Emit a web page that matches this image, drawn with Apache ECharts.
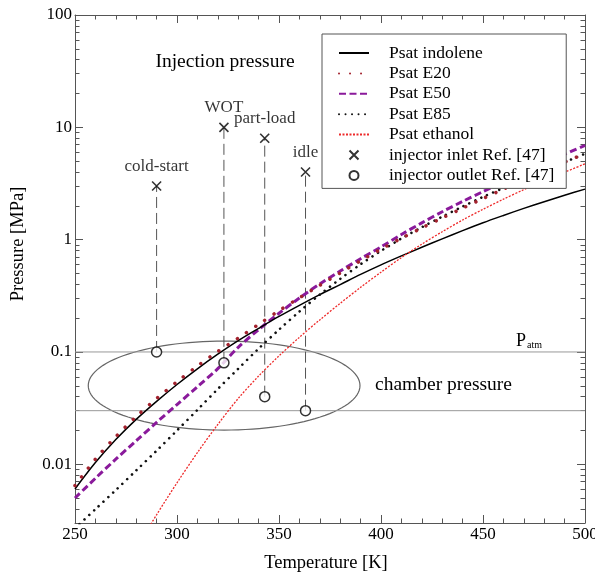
<!DOCTYPE html>
<html><head><meta charset="utf-8">
<script src="https://cdn.jsdelivr.net/npm/echarts@6/dist/echarts.min.js"></script>
<style>html,body{margin:0;padding:0;background:#fff}#c{width:595px;height:578px}</style>
</head><body><div id="c"></div>
<script>
// ---- data ----
const temperatures = [250,260,270,280,290,300,310,320,330,340,350,360,370,380,390,400,410,420,430,440,450,460,470,480,490,500];
const psatIndolene = [0.00603,0.01035,0.0166,0.0251,0.0363,0.0513,0.0708,0.0955,0.126,0.162,0.207,0.260,0.324,0.398,0.490,0.596,0.716,0.855,1.016,1.202,1.413,1.641,1.897,2.178,2.483,2.818];
const psatE20 = [0.00646,0.0111,0.0176,0.0266,0.0385,0.0543,0.0750,0.101,0.133,0.176,0.233,0.303,0.392,0.505,0.648,0.822,1.028,1.271,1.560,1.905,2.317,2.818,3.388,4.074,4.898,5.821];
const psatE50 = [0.00501,0.00750,0.0111,0.0162,0.0236,0.0340,0.0490,0.0710,0.110,0.158,0.221,0.302,0.403,0.525,0.676,0.861,1.110,1.410,1.770,2.188,2.679,3.266,3.963,4.786,5.754,6.918];
const psatE85 = [0.00269,0.00398,0.00589,0.00881,0.0132,0.0200,0.0305,0.0468,0.0708,0.107,0.158,0.229,0.324,0.447,0.603,0.794,1.023,1.288,1.603,1.972,2.399,2.884,3.467,4.121,4.898,5.821];
const psatEthanol = [null,null,null,0.00178,0.00355,0.00684,0.0127,0.0226,0.0385,0.0610,0.0923,0.135,0.193,0.271,0.376,0.513,0.692,0.912,1.175,1.496,1.862,2.291,2.786,3.350,3.981,4.732];

const conditions = ['cold-start','WOT','part-load','idle'];
const conditionT = [290,323,343,363];
const inletP = [3,10,8,4];
const outletP = [0.1,0.08,0.04,0.03];

const atmP = 0.1;
const chamberLowP = 0.03;
// ellipse: centre T, centre P, left-edge T, top P
const ellipseCentreT = 323.1, ellipseCentreP = 0.0502, ellipseLeftT = 256.5, ellipseTopP = 0.125;

const xMin = 250, xMax = 500, xStep = 50;
const yMin = 0.003, yMax = 100;
const yMajorTicks = [0.01,0.1,1,10,100];
const yMinorTicks = [0.003,0.004,0.005,0.006,0.007,0.008,0.009,
  0.02,0.03,0.04,0.05,0.06,0.07,0.08,0.09,
  0.2,0.3,0.4,0.5,0.6,0.7,0.8,0.9,
  2,3,4,5,6,7,8,9,
  20,30,40,50,60,70,80,90];

const seriesNames = ['Psat indolene','Psat E20','Psat E50','Psat E85','Psat ethanol','injector inlet Ref. [47]','injector outlet Ref. [47]'];

// ---- chart ----
const FONT = 'Liberation Serif';
const AXC = '#555';
const pair = arr => temperatures.map((t,i)=>[t, arr[i]]);

function yFmt(v){ const e = Math.round(Math.log10(v)); return e >= 0 ? String(Math.round(v)) : v.toFixed(-e); }

function xAx(pos, labels){
  return { type:'value', position:pos, min:xMin, max:xMax, interval:xStep,
    axisLine:{show:true, lineStyle:{color:AXC, width:1}},
    axisTick:{show:true, inside:true, length:8, lineStyle:{color:AXC}},
    minorTick:{show:true, splitNumber:5, length:4.5, lineStyle:{color:AXC}},
    splitLine:{show:false}, minorSplitLine:{show:false},
    axisLabel:{show:labels, color:'#000', fontFamily:FONT, fontSize:17, margin:3},
    name: labels ? 'Temperature [K]' : '', nameLocation:'middle', nameGap:31,
    nameTextStyle:{color:'#000', fontFamily:FONT, fontSize:18.5, padding:[0,8,0,0]} };
}
function yAx(pos, ticks, len, labels, line){
  return { type:'log', logBase:10, position:pos, min:yMin, max:yMax,
    axisLine:{show:line, lineStyle:{color:AXC, width:1}},
    axisTick:{show:true, inside:true, length:len, customValues:ticks, lineStyle:{color:AXC}},
    splitLine:{show:false}, minorTick:{show:false},
    axisLabel:{show:labels, customValues:yMajorTicks, formatter:yFmt, color:'#000', fontFamily:FONT, fontSize:17, margin:3} };
}

const lineLegendItem = name => ({ name:name, itemStyle:{opacity:0} });

const chart = echarts.init(document.getElementById('c'), null, {renderer:'canvas'});
const option = {
  animation:false,
  backgroundColor:'#fff',
  grid:{left:75, right:10, top:15, bottom:55, containLabel:false, outerBoundsMode:'none'},
  xAxis:[ xAx('bottom', true), xAx('top', false) ],
  yAxis:[ yAx('left', yMajorTicks, 8, true, true), yAx('left', yMinorTicks, 4.5, false, false),
          yAx('right', yMajorTicks, 8, false, true), yAx('right', yMinorTicks, 4.5, false, false) ],
  legend:{
    z:50,
    data:[lineLegendItem(seriesNames[0]), lineLegendItem(seriesNames[1]), lineLegendItem(seriesNames[2]),
          lineLegendItem(seriesNames[3]), lineLegendItem(seriesNames[4]), seriesNames[5], seriesNames[6]],
    orient:'vertical', left:322, top:34,
    padding:[10,12,4,16], itemGap:2.4, itemWidth:30, itemHeight:9,
    backgroundColor:'#fff', borderColor:'#555', borderWidth:1, borderRadius:0,
    textStyle:{color:'#000', fontFamily:FONT, fontSize:17.5, padding:[0,0,0,15]},
    selectedMode:false
  },
  series:[
    // reference lines
    { type:'line', data:[[xMin,atmP],[xMax,atmP]], symbol:'none', silent:true, z:1,
      lineStyle:{color:'#999', width:1} },
    { type:'line', data:[[xMin,chamberLowP],[xMax,chamberLowP]], symbol:'none', silent:true, z:1,
      lineStyle:{color:'#999', width:1} },
    { type:'custom', silent:true, z:1, data:[[ellipseCentreT, ellipseCentreP, ellipseLeftT, ellipseTopP]],
      renderItem:function(params, api){
        const c = api.coord([api.value(0), api.value(1)]);
        const l = api.coord([api.value(2), api.value(1)]);
        const t = api.coord([api.value(0), api.value(3)]);
        const rx = c[0]-l[0], ry = c[1]-t[1];
        const pts = [];
        for (let k=0;k<=120;k++){ const a = k/120*2*Math.PI; pts.push([c[0]+rx*Math.cos(a), c[1]+ry*Math.sin(a)]); }
        return { type:'polyline', shape:{points:pts}, style:{stroke:'#666', lineWidth:1.2, fill:null} };
      } },
    // vertical dashed condition lines
    ...conditionT.map((t,i)=>({ type:'line', data:[[t,outletP[i]],[t,inletP[i]]], symbol:'none', silent:true, z:2,
      lineStyle:{color:'#555', width:1, type:[11,5]} })),
    // saturation curves
    { name:seriesNames[0], type:'line', data:pair(psatIndolene), symbol:'none', smooth:0.3, z:5,
      lineStyle:{color:'#000', width:1.5} , itemStyle:{color:'#000'} },
    { name:seriesNames[1], type:'line', data:pair(psatE20), symbol:'none', smooth:0.3, z:6,
      lineStyle:{color:'#a3222e', width:3.5, type:[0.01,11], cap:'round'}, itemStyle:{color:'#a3222e'} },
    { name:seriesNames[2], type:'line', data:pair(psatE50), symbol:'none', smooth:0.3, z:4,
      lineStyle:{color:'#8a1a9b', width:3, type:[7,3.5]}, itemStyle:{color:'#8a1a9b'} },
    { name:seriesNames[3], type:'line', data:pair(psatE85), symbol:'none', smooth:0.3, z:5,
      lineStyle:{color:'#111', width:2.6, type:[0.01,6.5], cap:'round'}, itemStyle:{color:'#111'} },
    { name:seriesNames[4], type:'line', data:pair(psatEthanol), symbol:'none', smooth:0.3, z:5, connectNulls:false,
      lineStyle:{color:'#ee2a2a', width:1.3, type:[2,1.5]}, itemStyle:{color:'#ee2a2a'} },
    // markers
    { name:seriesNames[5], type:'scatter', z:10, data:conditionT.map((t,i)=>[t,inletP[i]]),
      symbol:'path://M0,0L10,10M10,0L0,10', symbolSize:9, symbolKeepAspect:true,
      itemStyle:{color:'rgba(0,0,0,0)', borderColor:'#000', borderWidth:1.6},
      label:{show:true, position:'top', distance:6, color:'#000', fontFamily:FONT, fontSize:17,
        formatter:p=>conditions[p.dataIndex]} },
    { name:seriesNames[6], type:'scatter', z:10, data:conditionT.map((t,i)=>[t,outletP[i]]),
      symbol:'circle', symbolSize:10,
      itemStyle:{color:'#fff', borderColor:'#000', borderWidth:1.5} }
  ],
  graphic:[
    { type:'text', x:18, y:244, rotation:Math.PI/2, style:{text:'Pressure [MPa]', fill:'#000', font:'18.5px "Liberation Serif"', align:'center', verticalAlign:'middle'} },
    { type:'text', x:225, y:62, style:{text:'Injection pressure', fill:'#000', font:'19.5px "Liberation Serif"', align:'center', verticalAlign:'middle'} },
    { type:'text', x:375, y:385, style:{text:'chamber pressure', fill:'#000', font:'19.5px "Liberation Serif"', align:'left', verticalAlign:'middle'} },
    { type:'text', x:516, y:341, style:{text:'P', fill:'#000', font:'18px "Liberation Serif"', align:'left', verticalAlign:'middle'} },
    { type:'text', x:527, y:345, style:{text:'atm', fill:'#000', font:'10px "Liberation Serif"', align:'left', verticalAlign:'middle'} }
  ]
};
chart.setOption(option);
</script>
</body></html>
